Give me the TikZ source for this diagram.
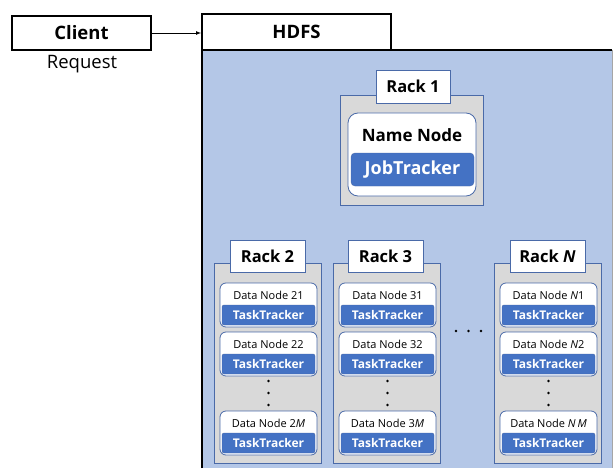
\documentclass[tikz,border=0pt]{standalone}
\usepackage{fontspec}
\setmainfont{Open Sans}
\usetikzlibrary{arrows}

\definecolor{hdfsblue}{HTML}{B4C7E7}
\definecolor{rackgray}{HTML}{D9D9D9}
\definecolor{rackline}{HTML}{4A6AA8}
\definecolor{trackblue}{HTML}{4472C4}

\tikzset{
  titlebox/.style={draw=black, line width=1.8pt, fill=white, inner sep=0pt,
    font=\fontsize{18.5}{20}\selectfont\bfseries},
  rackbox/.style={draw=rackline, line width=0.8pt, fill=rackgray, inner sep=0pt,
    minimum width=107pt, minimum height=200pt},
  racklabel/.style={draw=rackline, line width=0.8pt, fill=white, inner sep=0pt,
    minimum width=75pt, minimum height=32pt, font=\fontsize{16.5}{18}\selectfont\bfseries},
  hostbox/.style={draw=rackline, line width=0.8pt, fill=white, rounded corners=6pt,
    inner sep=0pt, minimum width=97pt, minimum height=44pt},
  hostname/.style={inner sep=0pt, font=\fontsize{11}{12}\selectfont},
  tracker/.style={fill=trackblue, draw=rackline, line width=0.4pt, rounded corners=2pt,
    inner sep=0pt, minimum width=93pt, minimum height=20pt, text=white,
    font=\fontsize{12}{13}\selectfont\bfseries},
  vdot/.style={circle, fill=black, inner sep=0pt, minimum size=2.6pt}
}

\begin{document}
\begin{tikzpicture}[x=1pt,y=-1pt]
      \useasboundingbox (0,0) rectangle (615,468);

      % HDFS area
      \fill[hdfsblue] (202,50) rectangle (612,468);
      \draw[gray!70, line width=0.6pt] (612,50) -- (612,468);
      \draw[line width=1.8pt] (202,468) -- (202,50) -- (612,50);

      \node[titlebox, minimum width=139pt, minimum height=34pt] (client) at (81.5,33) {Client};
      \node[inner sep=0pt, font=\fontsize{18.5}{20}\selectfont] (request) at (82,64) {Request};
      \node[titlebox, minimum width=189pt, minimum height=36pt] (hdfs) at (296.5,32) {HDFS};
      \draw[-latex, line width=0.7pt] (client.east) -- (hdfs.west |- client.east);

      % Rack 1: name node
      \node[rackbox, minimum width=143pt, minimum height=110pt] (rack1) at (411.5,150) {};
      \node[racklabel, minimum width=74pt, minimum height=33pt] (rack1l) at (413,86.5) {Rack 1};
      \node[hostbox, minimum width=128pt, minimum height=83pt, rounded corners=10pt] (namenode) at (412,154.5) {};
      \node[inner sep=0pt, font=\fontsize{17}{18}\selectfont\bfseries] (namenodet) at (412,135) {Name Node};
      \node[tracker, minimum width=123pt, minimum height=33pt, rounded corners=4pt,
        font=\fontsize{18}{20}\selectfont\bfseries] (jobtracker) at (412.5,169.5) {JobTracker};

      % Rack 2
      \node[rackbox] (rack2) at (267.5,363) {};
      \node[racklabel] (rack2l) at (267.5,256) {Rack 2};
      \node[hostbox] (dn21) at (268.5,305) {};
      \node[hostname] (dn21t) at (268.5,295) {Data Node 21};
      \node[tracker] (tt21) at (268.5,315) {TaskTracker};
      \node[hostbox] (dn22) at (268.5,354) {};
      \node[hostname] (dn22t) at (268.5,344) {Data Node 22};
      \node[tracker] (tt22) at (268.5,364) {TaskTracker};
      \node[vdot] (d2a) at (268.5,381) {};
      \node[vdot] (d2b) at (268.5,393) {};
      \node[vdot] (d2c) at (268.5,405) {};
      \node[hostbox] (dn2m) at (268.5,433) {};
      \node[hostname] (dn2mt) at (268.5,423) {Data Node 2\textit{M}};
      \node[tracker] (tt2m) at (268.5,443) {TaskTracker};

      % Rack 3
      \node[rackbox] (rack3) at (386.5,363) {};
      \node[racklabel] (rack3l) at (385.5,256) {Rack 3};
      \node[hostbox] (dn31) at (387.5,305) {};
      \node[hostname] (dn31t) at (387.5,295) {Data Node 31};
      \node[tracker] (tt31) at (387.5,315) {TaskTracker};
      \node[hostbox] (dn32) at (387.5,354) {};
      \node[hostname] (dn32t) at (387.5,344) {Data Node 32};
      \node[tracker] (tt32) at (387.5,364) {TaskTracker};
      \node[vdot] (d3a) at (387.5,381) {};
      \node[vdot] (d3b) at (387.5,393) {};
      \node[vdot] (d3c) at (387.5,405) {};
      \node[hostbox] (dn3m) at (387.5,433) {};
      \node[hostname] (dn3mt) at (387.5,423) {Data Node 3\textit{M}};
      \node[tracker] (tt3m) at (387.5,443) {TaskTracker};

      % ...
      \node[vdot] (h1) at (456,331) {};
      \node[vdot] (h2) at (468.5,331) {};
      \node[vdot] (h3) at (481,331) {};

      % Rack N
      \node[rackbox] (rackn) at (547.5,363) {};
      \node[racklabel] (racknl) at (547.5,256) {Rack \textit{N}};
      \node[hostbox] (dnn1) at (548.5,305) {};
      \node[hostname] (dnn1t) at (548.5,295) {Data Node \textit{N}1};
      \node[tracker] (ttn1) at (548.5,315) {TaskTracker};
      \node[hostbox] (dnn2) at (548.5,354) {};
      \node[hostname] (dnn2t) at (548.5,344) {Data Node \textit{N}2};
      \node[tracker] (ttn2) at (548.5,364) {TaskTracker};
      \node[vdot] (dna) at (548.5,381) {};
      \node[vdot] (dnb) at (548.5,393) {};
      \node[vdot] (dnc) at (548.5,405) {};
      \node[hostbox] (dnnm) at (548.5,433) {};
      \node[hostname] (dnnmt) at (548.5,423) {Data Node \textit{N\,M}};
      \node[tracker] (ttnm) at (548.5,443) {TaskTracker};
\end{tikzpicture}
\end{document}
